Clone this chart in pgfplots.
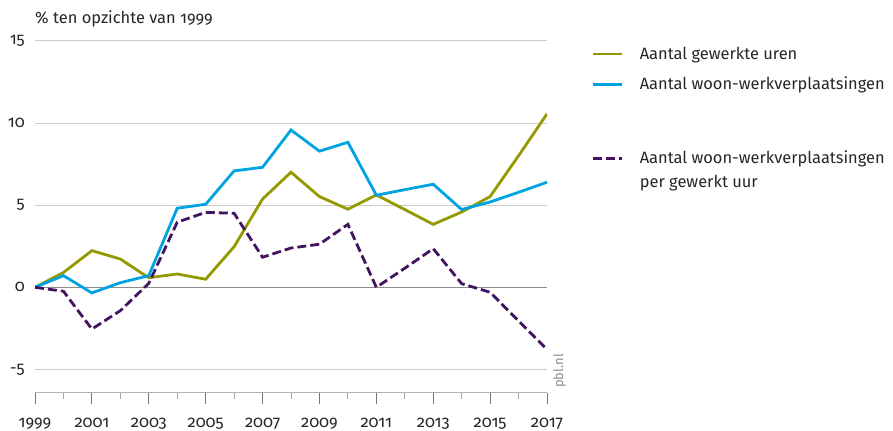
\documentclass[border=0pt]{standalone}
\usepackage{fontspec}
\setmainfont{Fira Sans}[Numbers=OldStyle]
\usepackage{pgfplots}
\pgfplotsset{compat=1.18}
\definecolor{pblgreen}{RGB}{148,153,0}
\definecolor{pblblue}{RGB}{0,163,225}
\definecolor{pblpurple}{RGB}{66,20,95}
\pgfplotsset{
  frame/.style={
    at={(35bp,38.3bp)}, anchor=south west,
    scale only axis, width=512bp, height=352bp,
    clip mode=individual,
    xmin=1999, xmax=2017, ymin=-6.41, ymax=15},
  legstyle/.style={
    legend style={anchor=north west, draw=none, fill=none,
      inner sep=0pt, outer sep=0pt, column sep=16bp,
      font=\fontsize{16.5}{18}\selectfont, text=black!85,
      cells={anchor=base west}, nodes={inner sep=0pt}},
    legend image code/.code={\draw[##1] (0bp,5bp) -- (29bp,5bp);}},
}
\begin{document}
\begin{tikzpicture}
\useasboundingbox (0,0) rectangle (893bp,431bp);
\begin{axis}[
  frame, legstyle,
  axis x line*=bottom, axis y line*=left,
  y axis line style={draw=none},
  x axis line style={-, color=black!30, line width=1bp},
  xtick={1999,2001,...,2017}, minor xtick={2000,2002,...,2016},
  xtick align=outside, ytick align=inside,
  major tick length=11bp, minor tick length=6bp,
  xtick style={color=black!55, line width=0.8bp},
  minor x tick style={color=black!35},
  ytick={-5,0,5,10,15}, ytick style={draw=none},
  ymajorgrids, grid style={color=black!20, line width=0.8bp},
  extra y ticks={0}, extra y tick labels={},
  extra y tick style={grid style={color=black!45, line width=1bp}},
  /pgf/number format/assume math mode=true, /pgf/number format/1000 sep={},
  tick label style={font=\fontsize{16.5}{18}\selectfont, text=black!85},
  yticklabel style={anchor=east, inner sep=0pt, xshift=-10bp},
  xticklabel style={anchor=base, inner sep=0pt, yshift=-23.6bp},
  legend style={at={(1.0879,0.983)}, row sep=16.3bp},
]
\addplot[pblgreen, line width=2.8bp] coordinates {
(1999,0) (2000,0.9) (2001,2.23) (2002,1.72) (2003,0.58) (2004,0.81) (2005,0.49)
(2006,2.47) (2007,5.37) (2008,7.0) (2009,5.52) (2010,4.75) (2011,5.62) (2012,4.73)
(2013,3.83) (2014,4.58) (2015,5.52) (2016,8.0) (2017,10.55)};
\addlegendentry{Aantal gewerkte uren}
\addplot[pblblue, line width=2.8bp] coordinates {
(1999,0) (2000,0.71) (2001,-0.34) (2002,0.28) (2003,0.71) (2004,4.81) (2005,5.05)
(2006,7.08) (2007,7.30) (2008,9.57) (2009,8.28) (2010,8.82) (2011,5.6) (2012,5.94)
(2013,6.27) (2014,4.73) (2015,5.19) (2016,5.78) (2017,6.39)};
\addlegendentry{Aantal woon-werkverplaatsingen}
\node[anchor=base west, inner sep=0pt, font=\fontsize{16.5}{18}\selectfont, text=black!85]
  at (rel axis cs:0,1) [yshift=17bp] {\% ten opzichte van 1999};
\node[xshift=16bp, yshift=4.7bp, rotate=90, anchor=base west, inner sep=0pt,
  font=\fontsize{13}{15}\selectfont, text=black!45] at (rel axis cs:1,0) {pbl.nl};
\end{axis}
\begin{axis}[
  frame, legstyle, hide axis,
  legend style={at={(1.0879,0.6872)}, row sep=10bp},
]
\addplot[pblpurple, line width=2.8bp, dash pattern=on 9bp off 4bp] coordinates {
(1999,0) (2000,-0.24) (2001,-2.54) (2002,-1.42) (2003,0.24) (2004,3.96) (2005,4.56)
(2006,4.5) (2007,1.83) (2008,2.39) (2009,2.62) (2010,3.83) (2011,0) (2012,1.16)
(2013,2.35) (2014,0.22) (2015,-0.3) (2016,-2.05) (2017,-3.77)};
\addlegendentry{Aantal woon-werkverplaatsingen}
\addlegendimage{empty legend}
\addlegendentry{per gewerkt uur}
\end{axis}
\end{tikzpicture}
\end{document}
